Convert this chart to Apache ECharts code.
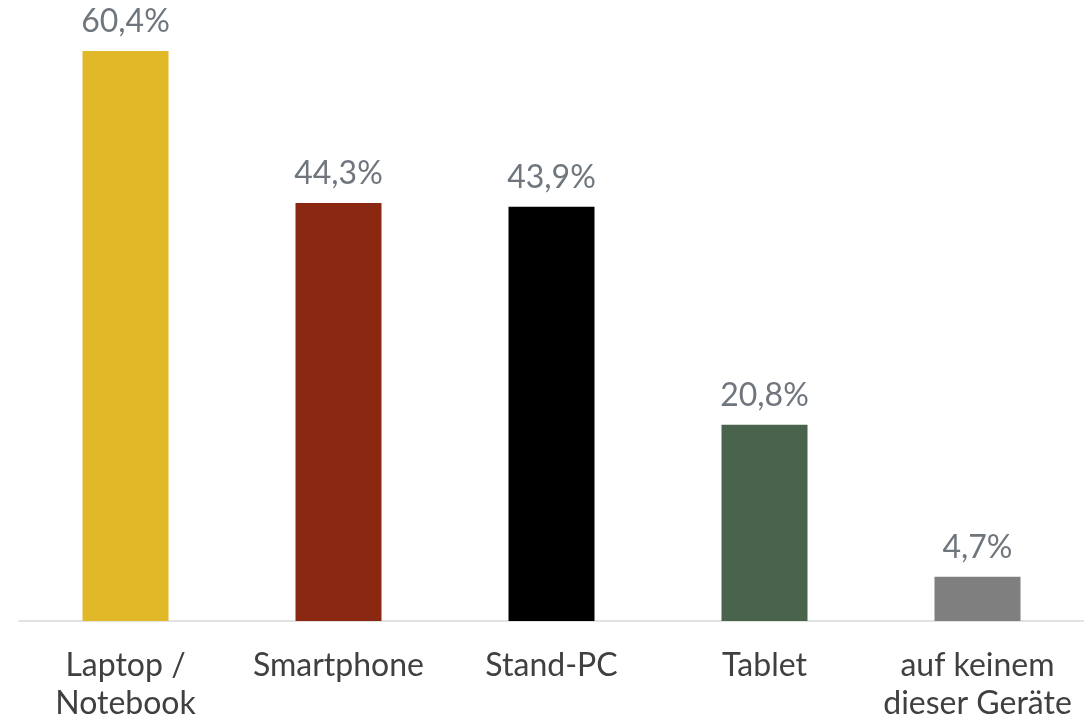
<!DOCTYPE html>
<html><head><meta charset="utf-8">
<script src="https://cdn.jsdelivr.net/npm/echarts@6/dist/echarts.min.js"></script>
<style>html,body{margin:0;padding:0;background:#fff}#c{width:1084px;height:717px}</style>
</head><body><div id="c"></div>
<script>
const categories = ['Laptop /\nNotebook', 'Smartphone', 'Stand-PC', 'Tablet', 'auf keinem\ndieser Geräte'];
const values = [60.4, 44.3, 43.9, 20.8, 4.7];
const colors = ['#E0B828', '#8B2812', '#000000', '#4A634C', '#7F7F7F'];

const chart = echarts.init(document.getElementById('c'));
chart.setOption({
  animation: false,
  grid: { left: 19, right: 0, top: 51, bottom: 96, containLabel: false, outerBoundsMode: 'none' },
  xAxis: {
    type: 'category', data: categories,
    axisLine: { lineStyle: { color: '#D9D9D9', width: 1.5 } },
    axisTick: { show: false },
    axisLabel: { color: '#404040', fontFamily: 'Lato', fontSize: 32, lineHeight: 38, margin: 26, interval: 0 }
  },
  yAxis: { type: 'value', min: 0, max: 60.4, show: false, splitLine: { show: false } },
  series: [{
    type: 'bar', barWidth: 86,
    data: values.map((v, i) => ({ value: v, itemStyle: { color: colors[i] } })),
    label: {
      show: true, position: 'top', distance: 13,
      color: '#6F767D', fontFamily: 'Lato', fontSize: 32,
      formatter: p => p.value.toFixed(1).replace('.', ',') + '%'
    }
  }]
});
</script></body></html>
